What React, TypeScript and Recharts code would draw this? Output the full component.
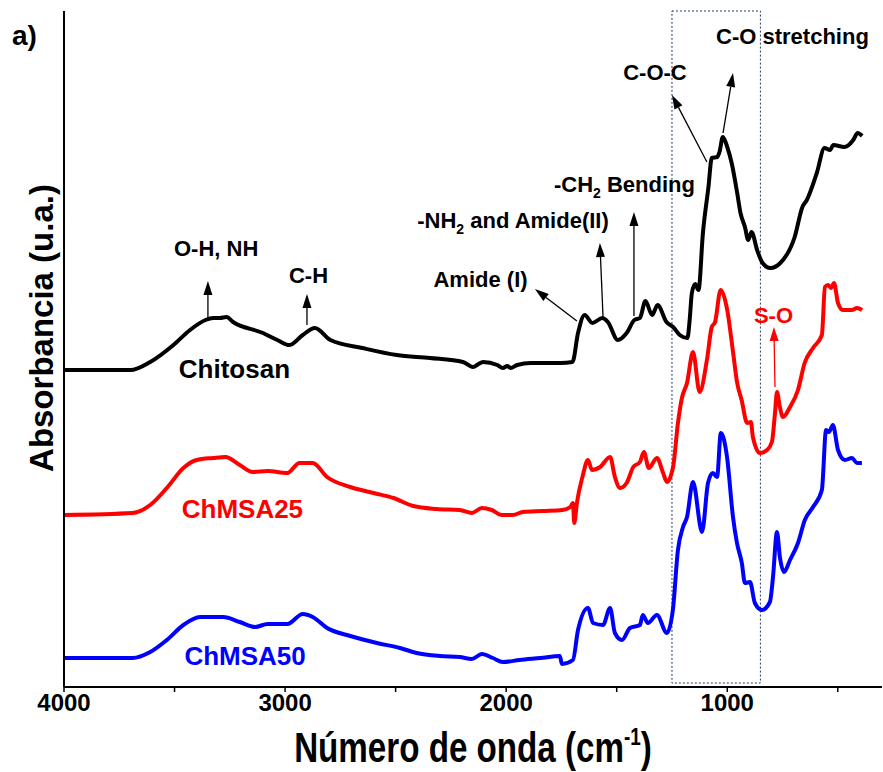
import { LineChart, Line, XAxis, YAxis, ReferenceArea, ReferenceLine, ReferenceDot } from 'recharts';

const FONT = '"Liberation Sans", Arial, Helvetica, sans-serif';

// FTIR spectra: wavenumber (cm-1) and stacked absorbance (a.u.)
const chitosanWn = [4000, 3840, 3700, 3610, 3505, 3430, 3360, 3325, 3295, 3265, 3235, 3100, 3035, 2980, 2920, 2865, 2795, 2650, 2495, 2345, 2195, 2150, 2125, 2105, 2040, 2015, 1995, 1980, 1950, 1890, 1755, 1700, 1675, 1645, 1610, 1565, 1540, 1495, 1455, 1420, 1395, 1370, 1340, 1315, 1275, 1245, 1215, 1180, 1170, 1160, 1145, 1130, 1110, 1085, 1070, 1045, 1035, 1020, 1000, 980, 955, 940, 920, 905, 890, 865, 840, 805, 760, 695, 660, 640, 595, 560, 535, 520, 470, 430, 410, 390];
const chitosanAbs = [3.17, 3.17, 3.17, 3.25, 3.42, 3.57, 3.67, 3.69, 3.69, 3.7, 3.65, 3.54, 3.47, 3.42, 3.52, 3.59, 3.47, 3.39, 3.32, 3.29, 3.25, 3.2, 3.23, 3.25, 3.22, 3.19, 3.21, 3.19, 3.22, 3.24, 3.24, 3.25, 3.54, 3.72, 3.64, 3.69, 3.65, 3.47, 3.54, 3.67, 3.69, 3.86, 3.72, 3.82, 3.65, 3.6, 3.52, 3.49, 3.67, 3.94, 4.03, 3.97, 4.54, 5.0, 5.29, 5.3, 5.35, 5.5, 5.4, 5.24, 4.94, 4.74, 4.6, 4.47, 4.55, 4.37, 4.24, 4.19, 4.24, 4.5, 4.8, 4.87, 5.14, 5.39, 5.37, 5.42, 5.4, 5.47, 5.54, 5.51];

const ms25Wn = [4000, 3690, 3610, 3535, 3460, 3400, 3325, 3270, 3205, 3145, 3080, 2990, 2935, 2875, 2810, 2705, 2600, 2510, 2420, 2315, 2210, 2155, 2110, 2065, 2020, 1970, 1925, 1835, 1745, 1710, 1698, 1692, 1680, 1655, 1630, 1612, 1575, 1530, 1508, 1485, 1455, 1425, 1395, 1377, 1355, 1318, 1290, 1273, 1245, 1223, 1205, 1182, 1155, 1125, 1092, 1070, 1055, 1030, 1000, 975, 955, 935, 910, 893, 884, 852, 820, 798, 784, 775, 762, 748, 716, 680, 650, 612, 572, 558, 544, 531, 517, 499, 477, 436, 413, 390];
const ms25Abs = [1.72, 1.74, 1.82, 1.99, 2.19, 2.27, 2.29, 2.3, 2.22, 2.15, 2.16, 2.14, 2.24, 2.24, 2.1, 2.0, 1.94, 1.89, 1.81, 1.78, 1.77, 1.74, 1.79, 1.77, 1.72, 1.72, 1.75, 1.76, 1.77, 1.8, 1.84, 1.64, 1.84, 2.1, 2.27, 2.17, 2.2, 2.3, 2.1, 1.99, 2.04, 2.2, 2.25, 2.35, 2.19, 2.29, 2.14, 2.05, 2.2, 2.64, 2.89, 3.04, 3.35, 2.95, 3.27, 3.6, 3.65, 3.97, 3.77, 3.37, 3.04, 2.87, 2.64, 2.65, 2.5, 2.34, 2.37, 2.45, 2.74, 2.95, 2.8, 2.7, 2.8, 2.97, 3.24, 3.39, 3.52, 4.0, 4.02, 3.99, 4.04, 3.84, 3.77, 3.77, 3.79, 3.77];

const ms50Wn = [4000, 3690, 3610, 3535, 3460, 3385, 3280, 3205, 3135, 3080, 2990, 2920, 2875, 2810, 2705, 2585, 2480, 2405, 2300, 2210, 2155, 2110, 2060, 2015, 1940, 1845, 1757, 1748, 1698, 1675, 1630, 1607, 1562, 1530, 1508, 1476, 1440, 1395, 1382, 1359, 1318, 1273, 1246, 1223, 1200, 1182, 1155, 1114, 1087, 1065, 1046, 1029, 1001, 974, 956, 934, 920, 897, 875, 843, 807, 793, 775, 762, 743, 716, 680, 649, 612, 572, 553, 540, 522, 499, 468, 436, 413, 391];
const ms50Abs = [0.29, 0.29, 0.35, 0.47, 0.62, 0.7, 0.7, 0.65, 0.6, 0.63, 0.63, 0.73, 0.7, 0.59, 0.51, 0.44, 0.39, 0.34, 0.31, 0.3, 0.28, 0.33, 0.29, 0.25, 0.27, 0.29, 0.31, 0.23, 0.27, 0.57, 0.79, 0.64, 0.62, 0.79, 0.54, 0.47, 0.59, 0.62, 0.72, 0.64, 0.72, 0.54, 0.77, 1.37, 1.6, 1.7, 2.05, 1.55, 2.04, 2.14, 2.1, 2.54, 2.3, 1.7, 1.44, 1.24, 1.04, 1.05, 0.84, 0.77, 0.85, 1.1, 1.55, 1.3, 1.15, 1.27, 1.44, 1.67, 1.8, 1.97, 2.57, 2.55, 2.62, 2.37, 2.27, 2.29, 2.24, 2.24];

const xTicks = [4000, 3500, 3000, 2500, 2000, 1500, 1000, 500];
const X_DOMAIN = [300, 4000];
const Y_DOMAIN = [0, 6.76];

// band assignments: text centre and the arrow from the band up to the text
const bandLabels = [
  { text: 'O-H, NH', wn: 3312, abs: 4.31, color: '#000' },
  { text: 'C-H', wn: 2894, abs: 4.04, color: '#000' },
  { text: 'Amide (I)', wn: 2116, abs: 4.0, color: '#000' },
  { text: '-NH', sub: '2', rest: ' and Amide(II)', wn: 1969, abs: 4.59, color: '#000' },
  { text: '-CH', sub: '2', rest: ' Bending', wn: 1465, abs: 4.95, color: '#000' },
  { text: 'C-O-C', wn: 1327, abs: 6.07, color: '#000' },
  { text: 'C-O stretching', wn: 705, abs: 6.43, color: '#000' },
  { text: 'S-O', wn: 791, abs: 3.64, color: '#ff0000' },
];

const bandArrows = [
  { from: [3349, 3.69], to: [3349, 4.06], color: '#000' },
  { from: [2901, 3.62], to: [2901, 3.93], color: '#000' },
  { from: [1680, 3.66], to: [1870, 3.98], color: '#000' },
  { from: [1562, 3.71], to: [1576, 4.44], color: '#000' },
  { from: [1422, 3.71], to: [1422, 4.75], color: '#000' },
  { from: [1092, 5.25], to: [1250, 5.92], color: '#000' },
  { from: [1019, 5.54], to: [974, 6.14], color: '#000' },
  { from: [784, 3.0], to: [789, 3.6], color: '#ff0000' },
];

const seriesNames = [
  { text: 'Chitosan', wn: 3229, abs: 3.09, color: '#000' },
  { text: 'ChMSA25', wn: 3193, abs: 1.69, color: '#ff0000' },
  { text: 'ChMSA50', wn: 3181, abs: 0.22, color: '#0000ff' },
];

const toPoints = (wn: number[], abs: number[]) => wn.map((w, i) => ({ wn: w, abs: abs[i] }));

const chitosan = toPoints(chitosanWn, chitosanAbs);
const chmsa25 = toPoints(ms25Wn, ms25Abs);
const chmsa50 = toPoints(ms50Wn, ms50Abs);

function Arrow(props: any) {
  const { x1, y1, x2, y2, color } = props;
  const dx = x2 - x1;
  const dy = y2 - y1;
  const len = Math.hypot(dx, dy) || 1;
  const ux = dx / len;
  const uy = dy / len;
  const head = 14;
  const half = 4.5;
  const bx = x2 - ux * head;
  const by = y2 - uy * head;
  const pts = `${x2},${y2} ${bx - uy * half},${by + ux * half} ${bx + uy * half},${by - ux * half}`;
  return (
    <g>
      <line x1={x1} y1={y1} x2={bx} y2={by} stroke={color} strokeWidth={1.3} />
      <polygon points={pts} fill={color} />
    </g>
  );
}

// axis title is set in a condensed bold face: squeeze it horizontally
function XTitle(props: any) {
  const { x, y, width } = props.viewBox;
  return (
    <g transform={`translate(${x + width / 2}, ${y + 75}) scale(0.79, 1)`}>
      <text x={0} y={0} textAnchor="middle" fontFamily={FONT} fontWeight="bold" fontSize={42} fill="#000">
        Número de onda (cm
        <tspan fontSize={24} dy={-17}>-1</tspan>
        <tspan dy={17}>)</tspan>
      </text>
    </g>
  );
}

function YTitle(props: any) {
  const { y } = props.viewBox;
  const cx = 53;
  const cy = y + 317;
  return (
    <text
      x={cx}
      y={cy}
      transform={`rotate(-90, ${cx}, ${cy})`}
      textAnchor="middle"
      fontFamily={FONT}
      fontWeight="bold"
      fontSize={33}
      fill="#000"
    >
      Absorbancia (u.a.)
    </text>
  );
}

const frame = { stroke: '#000', strokeWidth: 2 };

export default function App() {
  return (
    <div style={{ position: 'absolute', left: 0, top: 0, width: 883, height: 772, background: '#fff' }}>
      <LineChart width={883} height={772} margin={{ top: 11, right: 1, bottom: 0, left: 0 }}>
        <XAxis
          xAxisId="b"
          type="number"
          dataKey="wn"
          domain={X_DOMAIN}
          reversed
          allowDataOverflow
          ticks={xTicks}
          interval={0}
          tickFormatter={(v: number) => (v % 1000 === 0 ? String(v) : '')}
          height={85}
          axisLine={frame}
          tickLine={{ stroke: '#000', strokeWidth: 1.5 }}
          tickSize={5}
          tick={{ fontSize: 24, fontWeight: 'bold', fill: '#000', fontFamily: FONT }}
          label={{ content: (p: any) => <XTitle {...p} /> }}
        />
        <XAxis
          xAxisId="t"
          orientation="top"
          type="number"
          dataKey="wn"
          domain={X_DOMAIN}
          reversed
          allowDataOverflow
          ticks={xTicks}
          interval={0}
          mirror
          height={0}
          axisLine={frame}
          tickLine={{ stroke: '#000', strokeWidth: 1.5 }}
          tickSize={5}
          tick={false}
        />
        <YAxis
          yAxisId="l"
          domain={Y_DOMAIN}
          allowDataOverflow
          ticks={[]}
          width={64}
          axisLine={frame}
          tickLine={false}
          tick={false}
          label={{ content: (p: any) => <YTitle {...p} /> }}
        />
        <YAxis
          yAxisId="r"
          orientation="right"
          domain={Y_DOMAIN}
          ticks={[]}
          width={0}
          axisLine={frame}
          tickLine={false}
          tick={false}
        />

        <ReferenceArea
          xAxisId="b"
          yAxisId="l"
          x1={1250}
          x2={850}
          y1={0.04}
          y2={6.76}
          fill="none"
          fillOpacity={0}
          stroke="#1f3a66"
          strokeWidth={1}
          strokeDasharray="2 2"
        />

        <Line xAxisId="b" yAxisId="l" data={chitosan} dataKey="abs" type="monotone" stroke="#000" strokeWidth={4} dot={false} isAnimationActive={false} />
        <Line xAxisId="b" yAxisId="l" data={chmsa25} dataKey="abs" type="monotone" stroke="#ff0000" strokeWidth={4} dot={false} isAnimationActive={false} />
        <Line xAxisId="b" yAxisId="l" data={chmsa50} dataKey="abs" type="monotone" stroke="#0000ff" strokeWidth={4} dot={false} isAnimationActive={false} />

        {bandArrows.map((a, i) => (
          <ReferenceLine
            key={`arrow-${i}`}
            xAxisId="b"
            yAxisId="l"
            segment={[
              { x: a.from[0], y: a.from[1] },
              { x: a.to[0], y: a.to[1] },
            ]}
            ifOverflow="visible"
            shape={(p: any) => <Arrow {...p} color={a.color} />}
          />
        ))}

        {bandLabels.map((l, i) => (
          <ReferenceDot
            key={`band-${i}`}
            xAxisId="b"
            yAxisId="l"
            x={l.wn}
            y={l.abs}
            r={0}
            ifOverflow="visible"
            shape={(p: any) => (
              <text x={p.cx} y={p.cy} textAnchor="middle" fontFamily={FONT} fontWeight="bold" fontSize={22} fill={l.color}>
                {l.text}
                {l.sub ? (
                  <tspan fontSize={14} dy={6}>
                    {l.sub}
                  </tspan>
                ) : null}
                {l.rest ? <tspan dy={-6}>{l.rest}</tspan> : null}
              </text>
            )}
          />
        ))}

        {seriesNames.map((s, i) => (
          <ReferenceDot
            key={`name-${i}`}
            xAxisId="b"
            yAxisId="l"
            x={s.wn}
            y={s.abs}
            r={0}
            ifOverflow="visible"
            shape={(p: any) => (
              <text x={p.cx} y={p.cy} textAnchor="middle" fontFamily={FONT} fontWeight="bold" fontSize={26} fill={s.color}>
                {s.text}
              </text>
            )}
          />
        ))}

        <text x={12} y={45} fontFamily={FONT} fontWeight="bold" fontSize={28} fill="#000">
          a)
        </text>
      </LineChart>
    </div>
  );
}
